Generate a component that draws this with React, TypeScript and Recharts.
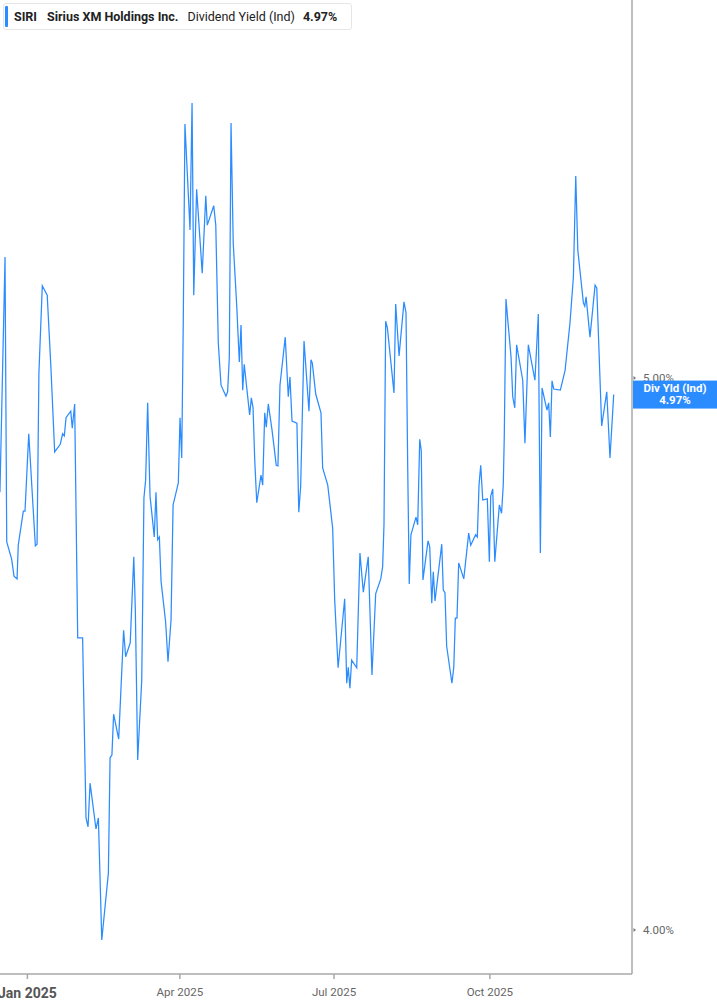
import { Line, LineChart, XAxis, YAxis } from "recharts";

// SIRI dividend yield (indicated), Dec 2024 – Dec 2025.
// x = days since 2025-01-01, y = yield in %.
const dayOffsets = [
  -16.2, -13.2, -12.2, -9.3, -7.9, -6.1, -5.4, -2.4, -1.4, 0.8, 4.7, 5.7, 6.8, 8.8, 11.7, 13.9,
  16.1, 19.4, 20.8, 21.8, 22.8, 25.6, 26.5, 27.9, 29.7, 32.6, 34.6, 35.8, 37.0, 40.5, 41.9, 43.9,
  47.8, 48.8, 49.9, 50.9, 53.9, 56.8, 58.0, 60.7, 62.8, 63.7, 65.1, 67.5, 68.8, 69.8, 71.0, 72.4,
  74.9, 75.9, 76.9, 77.9, 78.9, 81.6, 83.0, 84.8, 86.0, 89.1, 90.1, 91.1, 92.0, 93.0, 96.0, 97.2,
  98.2, 99.9, 103.2, 105.3, 106.2, 110.0, 111.2, 112.7, 114.3, 117.2, 118.2, 119.2, 120.2, 121.5,
  123.6, 125.1, 126.1, 127.1, 128.0, 131.2, 132.2, 133.2, 134.2, 135.4, 137.9, 138.9, 140.1, 141.0,
  142.2, 144.4, 146.9, 147.9, 149.1, 152.2, 154.0, 155.0, 156.2, 159.1, 160.2, 161.3, 163.3, 166.2,
  167.4, 168.2, 170.2, 173.3, 174.3, 177.3, 180.2, 181.4, 183.4, 187.3, 188.5, 189.4, 190.4, 191.4,
  194.4, 196.3, 198.3, 201.2, 203.4, 205.6, 208.6, 209.7, 210.5, 211.5, 212.5, 216.4, 217.4, 219.4,
  222.3, 223.5, 224.5, 225.4, 226.4, 229.4, 230.4, 231.6, 232.5, 233.5, 236.5, 237.5, 238.7, 239.6,
  240.6, 244.6, 245.5, 246.5, 247.5, 250.6, 251.7, 252.6, 253.6, 254.6, 257.6, 260.5, 261.7, 264.6,
  265.6, 266.6, 267.6, 268.8, 271.5, 272.7, 273.5, 274.7, 275.9, 278.6, 279.9, 280.9, 281.5, 282.5,
  285.5, 286.5, 287.7, 288.8, 292.4, 293.7, 295.7, 299.6, 301.6, 302.8, 303.8, 306.7, 307.7, 308.7,
  309.7, 310.7, 314.6, 317.4, 320.3, 322.3, 323.7, 324.9, 328.2, 329.0, 329.8, 332.1, 335.1, 336.1,
  339.0, 342.0, 343.9, 346.1,
];

const yields = [
  4.793, 5.219, 4.703, 4.672, 4.641, 4.636, 4.697, 4.759, 4.759, 4.899, 4.696, 4.699, 5.009, 5.167, 5.15, 5.018,
  4.866, 4.88, 4.899, 4.895, 4.928, 4.94, 4.909, 4.953, 4.529, 4.529, 4.203, 4.187, 4.266, 4.183, 4.203, 3.982,
  4.103, 4.312, 4.317, 4.391, 4.346, 4.543, 4.495, 4.52, 4.676, 4.583, 4.308, 4.453, 4.783, 4.815, 4.955, 4.786,
  4.712, 4.793, 4.707, 4.712, 4.632, 4.558, 4.486, 4.562, 4.77, 4.81, 4.928, 4.855, 5.098, 5.46, 5.268, 5.498,
  5.15, 5.342, 5.19, 5.33, 5.277, 5.312, 5.277, 5.063, 4.987, 4.967, 4.975, 5.038, 5.462, 5.245,
  5.129, 5.029, 5.096, 4.978, 5.025, 4.933, 4.964, 4.946, 4.851, 4.774, 4.824, 4.806, 4.937, 4.911,
  4.953, 4.906, 4.842, 4.841, 4.987, 5.074, 4.966, 5.002, 4.922, 4.918, 4.757, 4.803, 5.067, 4.94,
  5.033, 5.027, 4.971, 4.937, 4.837, 4.806, 4.728, 4.598, 4.475, 4.6, 4.447, 4.476, 4.438, 4.489,
  4.475, 4.683, 4.612, 4.676, 4.462, 4.609, 4.636, 4.658, 4.734, 5.103, 5.091, 4.973, 5.134, 5.04,
  5.138, 5.118, 4.839, 4.627, 4.716, 4.748, 4.734, 4.889, 4.868, 4.634, 4.705, 4.694, 4.592, 4.649,
  4.596, 4.699, 4.616, 4.611, 4.514, 4.447, 4.476, 4.565, 4.565, 4.665, 4.636, 4.719, 4.697, 4.716,
  4.712, 4.806, 4.842, 4.779, 4.781, 4.667, 4.786, 4.799, 4.667, 4.77, 4.755, 4.806, 4.893, 5.143,
  5.038, 4.966, 4.946, 5.06, 4.996, 4.882, 5.06, 4.996, 5.116, 4.683, 4.982, 4.942, 4.955, 4.893,
  4.995, 4.98, 4.978, 5.014, 5.1, 5.183, 5.366, 5.232, 5.136, 5.13, 5.147, 5.074, 5.168, 5.163,
  4.913, 4.975, 4.855, 4.97,
];

const xTicks = [0, 90, 181, 273];
const xTickLabels = ["Jan 2025", "Apr 2025", "Jul 2025", "Oct 2025"];
const yTicks = [4, 5];
const lastValue = 4.97;

const BLUE = "#2b8cff";
const AXIS = "#a8a8a8";
const FONT = "Roboto, 'Noto Sans', sans-serif";

const data = dayOffsets.map((d, i) => ({ day: d, yld: yields[i] }));

function XTick(props: any) {
  const { x, y, payload } = props;
  const i = xTicks.indexOf(payload.value);
  const isYear = i === 0;
  return (
    <text
      x={x}
      y={y + (isYear ? 17 : 15)}
      textAnchor="middle"
      fontFamily={FONT}
      fontSize={isYear ? 14 : 11.5}
      fontWeight={isYear ? 700 : 400}
      fill={isYear ? "#555" : "#666"}
    >
      {xTickLabels[i]}
    </text>
  );
}

function YTick(props: any) {
  const { x, y, payload } = props;
  if (payload.value === lastValue) {
    return (
      <g>
        <rect x={x + 1} y={y - 14} width={85} height={28} fill={BLUE} />
        <text x={x + 43} y={y - 3} textAnchor="middle" fontFamily={FONT} fontSize={11.5} fontWeight={700} fill="#fff">
          Div Yld (Ind)
        </text>
        <text x={x + 43} y={y + 9} textAnchor="middle" fontFamily={FONT} fontSize={11.5} fontWeight={700} fill="#fff">
          4.97%
        </text>
      </g>
    );
  }
  return (
    <g>
      <path d={`M${x + 1.5},${y - 2} L${x + 4},${y} L${x + 1.5},${y + 2} Z`} fill="#777" />
      <text x={x + 11} y={y + 4} fontFamily={FONT} fontSize={11.5} fill="#666">
        {payload.value.toFixed(2)}%
      </text>
    </g>
  );
}

export default function App() {
  return (
    <div style={{ position: "absolute", left: 0, top: 0, width: 717, height: 1005, background: "#fff" }}>
      <LineChart width={717} height={1005} data={data} margin={{ top: 0, right: 0, bottom: 0, left: 0 }}>
        <XAxis
          dataKey="day"
          type="number"
          domain={[-16.17, 356.9]}
          ticks={xTicks}
          tick={<XTick />}
          height={31}
          stroke={AXIS}
          strokeWidth={1.5}
          tickSize={5}
          interval={0}
          allowDataOverflow
        />
        <YAxis
          orientation="right"
          type="number"
          domain={[3.9203, 5.6848]}
          ticks={[...yTicks, lastValue]}
          tick={<YTick />}
          width={85}
          stroke={AXIS}
          strokeWidth={1.5}
          tickLine={false}
          tickSize={0}
          tickMargin={0}
          interval={0}
          allowDataOverflow
        />
        <Line
          type="linear"
          dataKey="yld"
          stroke={BLUE}
          strokeWidth={1.25}
          dot={false}
          isAnimationActive={false}
        />
      </LineChart>
      <div
        style={{
          position: "absolute",
          left: 3,
          top: 3,
          width: 349,
          height: 27,
          boxSizing: "border-box",
          border: "1px solid #e6e6e6",
          borderRadius: 3,
          background: "#fff",
          display: "flex",
          alignItems: "center",
          fontFamily: FONT,
          fontSize: 12.5,
          color: "#222",
          whiteSpace: "nowrap",
        }}
      >
        <div style={{ width: 3, height: 21, background: BLUE, borderRadius: 1, marginLeft: 1, marginRight: 6 }} />
        <span style={{ fontWeight: 700, marginRight: 10 }}>SIRI</span>
        <span style={{ fontWeight: 700, marginRight: 9 }}>Sirius XM Holdings Inc.</span>
        <span style={{ marginRight: 8 }}>Dividend Yield (Ind)</span>
        <span style={{ fontWeight: 700 }}>4.97%</span>
      </div>
    </div>
  );
}
